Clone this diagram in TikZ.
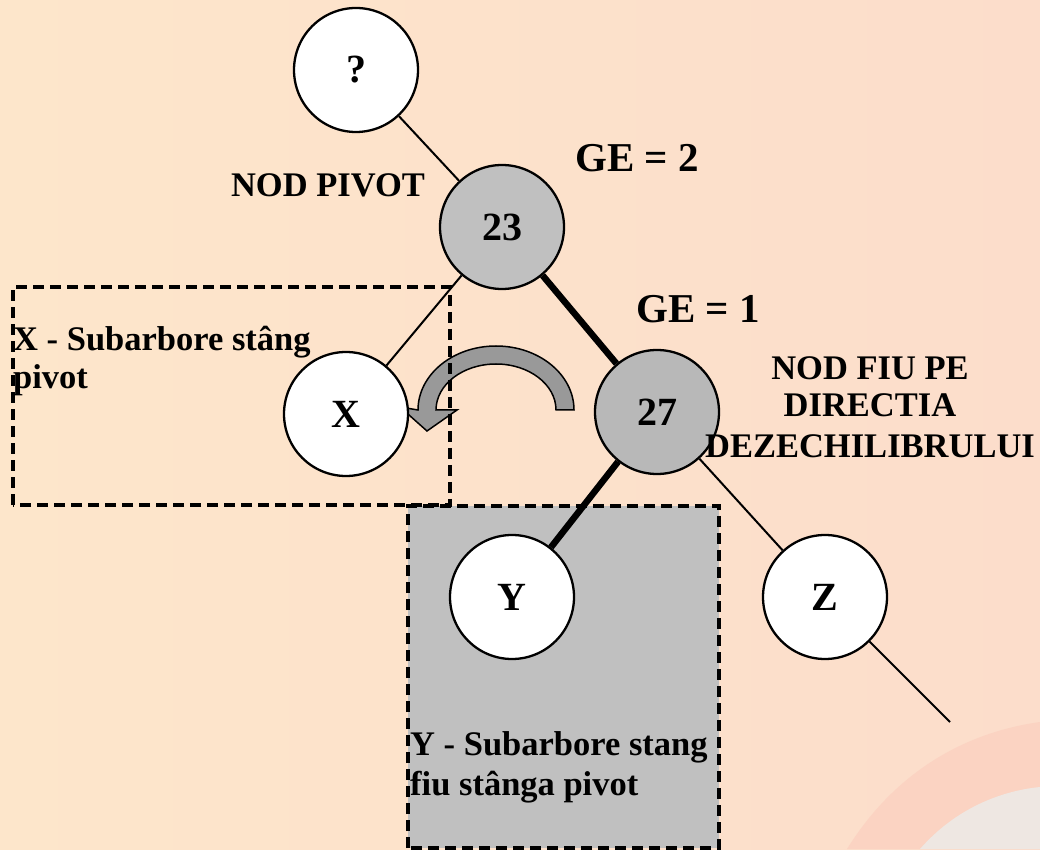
\documentclass[tikz,border=0pt]{standalone}
\usepackage{fontspec}
\setmainfont{Liberation Serif}
\begin{document}
\begin{tikzpicture}[x=1pt,y=1pt,
  treenode/.style={circle,draw=black,line width=2.3pt,minimum size=124pt,inner sep=0pt,
    font=\fontsize{40}{48}\selectfont\bfseries},
  lbl/.style={inner sep=0pt,font=\fontsize{34.5}{39}\selectfont\bfseries},
  gelbl/.style={inner sep=0pt,font=\fontsize{41}{48}\selectfont\bfseries},
  thinedge/.style={line width=2pt},
  thickedge/.style={line width=6.5pt},
  dashbox/.style={line width=3.5pt,dash pattern=on 11pt off 6pt}]
\definecolor{bgL}{HTML}{FDE6CB}
\definecolor{bgR}{HTML}{FCDDCB}
\definecolor{arcpink}{HTML}{FBD3C2}
\definecolor{arcgray}{HTML}{EEE7E2}
\definecolor{nodegray}{HTML}{C0C0C0}
\definecolor{dotgray}{HTML}{B8B8B8}
\definecolor{arrowgray}{HTML}{999999}
\useasboundingbox (0,0) rectangle (1040,849);
% background
\shade[left color=bgL,right color=bgR] (0,0) rectangle (1040,849);
\fill[arcpink] (847,0) .. controls (900,85) and (975,118) .. (1040,127) -- (1040,0) -- cycle;
\fill[arcgray] (920,0) .. controls (955,40) and (1000,58) .. (1040,62) -- (1040,0) -- cycle;
% Y subtree box
\fill[nodegray] (408,1) rectangle (719,343);
\draw[dashbox] (408,1) rectangle (719,343);
% rotation arrow
\filldraw[fill=arrowgray,draw=black,line width=1.5pt]
  (574,439) arc[start angle=0,end angle=180,x radius=78pt,y radius=64pt]
  -- (400,442) -- (427,418) -- (457,439) -- (436,439)
  arc[start angle=180,end angle=0,x radius=60pt,y radius=46pt] -- cycle;
% X subtree box
\draw[dashbox] (13,344) rectangle (450,562);
% nodes
\node[treenode,fill=white] (q) at (356,779) {?};
\node[treenode,fill=nodegray] (n23) at (502,622) {23};
\node[treenode,fill=dotgray] (n27) at (657,437) {27};
\node[treenode,fill=white] (x) at (346,435) {X};
\node[treenode,fill=white] (y) at (512,252) {Y};
\node[treenode,fill=white] (z) at (825,252) {Z};
\coordinate (zend) at (950,127);
% edges
\draw[thinedge] (q) -- (n23);
\draw[thinedge] (n23) -- (x);
\draw[thickedge] (n23) -- (n27);
\draw[thickedge] (n27) -- (y);
\draw[thinedge] (n27) -- (z);
\draw[thinedge] (z) -- (zend);
% labels
\node[lbl,anchor=base] (pivot) at (328,652) {NOD PIVOT};
\node[gelbl,anchor=base] (ge2) at (637,677) {GE = 2};
\node[gelbl,anchor=base] (ge1) at (698,526) {GE = 1};
\node[lbl,anchor=base] (fiu1) at (870,469) {NOD FIU PE};
\node[lbl,anchor=base] (fiu2) at (870,432) {DIRECTIA};
\node[lbl,anchor=base] (fiu3) at (870,391) {DEZECHILIBRULUI};
\node[lbl,anchor=base west] (xl1) at (13,498) {X - Subarbore stâng};
\node[lbl,anchor=base west] (xl2) at (13,460) {pivot};
\node[lbl,anchor=base west] (yl1) at (410,94) {Y - Subarbore stang};
\node[lbl,anchor=base west] (yl2) at (410,54) {fiu stânga pivot};
\end{tikzpicture}
\end{document}
